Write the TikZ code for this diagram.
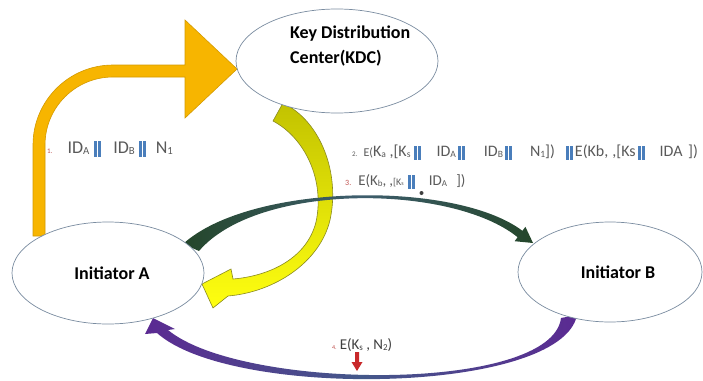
\documentclass[tikz,border=0pt]{standalone}
\usepackage{fontspec}
\usepackage{graphicx}
\setmainfont{Carlito}
\usetikzlibrary{shapes.geometric}
\definecolor{ellline}{HTML}{7A8CA0}
\definecolor{orangefill}{HTML}{F7B500}
\definecolor{orangeline}{HTML}{D49A00}
\definecolor{olive}{HTML}{C2C200}
\definecolor{brightyellow}{HTML}{FFFF10}
\definecolor{yellowline}{HTML}{8A8A20}
\definecolor{darkgreen}{HTML}{24462A}
\definecolor{slate}{HTML}{3E5E6E}
\definecolor{purp}{HTML}{5B2A92}
\definecolor{purpmid}{HTML}{44588A}
\definecolor{barblue}{HTML}{4A7EBB}
\definecolor{labelgray}{HTML}{5A5A5A}
\definecolor{numred}{HTML}{C0504D}
\definecolor{arrowred}{HTML}{C8282A}
\newcommand\mybars[1][14pt]{\textcolor{barblue}{\rule[-3.5pt]{3pt}{#1}\hspace{1pt}\rule[-3.5pt]{3pt}{#1}}}
\newcommand\mysub[1]{\raisebox{-0.15ex}{\scalebox{0.6}{#1}}}
\begin{document}
\begin{tikzpicture}[x=1pt,y=-1pt,
  ell/.style={ellipse, draw=ellline, line width=0.7pt, fill=white, inner sep=0pt},
  big/.style={font=\fontsize{18}{25}\selectfont\bfseries, text=black},
  lab/.style={text=labelgray, inner sep=0pt, anchor=base west}]
\fill[white] (0,0) rectangle (703,380);
\useasboundingbox (0,0) rectangle (703,380);
% orange bent arrow
\path[fill=orangefill, draw=orangeline, line width=0.6pt]
  (33,236) -- (33,145) .. controls (33,100.8) and (68.8,65) .. (113,65)
  -- (185,65) -- (185,20) -- (237,69) -- (185,118) -- (185,77) -- (113,77)
  .. controls (75.4,77) and (45,107.4) .. (45,145) -- (45,236) -- cycle;
% yellow curved arrow
\path[top color=olive, bottom color=brightyellow, draw=yellowline, line width=0.6pt]
  (283,103) .. controls (322,122) and (340,175) .. (330,220)
  .. controls (320,262) and (275,292) .. (228,296)
  -- (213,308) -- (202,284) -- (231,269) -- (233,279)
  .. controls (270,276) and (307,258) .. (316,222)
  .. controls (325,180) and (305,138) .. (273,121) -- cycle;
% green arc
\path[left color=darkgreen, right color=darkgreen, middle color=slate]
  (183,244) .. controls (250,183) and (455,180) .. (522.4,230.8)
  -- (525.4,226.8) -- (533,243) -- (514.6,241.2) -- (517.6,237.2)
  .. controls (452,184) and (258,182) .. (199,251) -- cycle;
% purple arc
\path[left color=purp, right color=purp, middle color=purpmid]
  (577,315) .. controls (562,394) and (232,400) .. (157,333)
  -- (145,334) -- (153,318) -- (175,329) -- (168,330)
  .. controls (242,391) and (552,393) .. (561,318) -- cycle;
% nodes
\node[ell, minimum width=192pt, minimum height=102pt, font=\fontsize{18}{22}\selectfont\bfseries] (A) at (108,273) {\hspace*{8pt}Initiator A};
\node[ell, minimum width=184pt, minimum height=100pt, font=\fontsize{18}{22}\selectfont\bfseries] (B) at (610,272) {\hspace*{16pt}Initiator B};
\node[ell, minimum width=202pt, minimum height=104pt] (KDC) at (337,61) {};
\node[big, anchor=west, align=left, inner sep=0pt] (kdct) at (290,46) {Key Distribution\\Center(KDC)};
% labels
\node[lab] (l1) at (47,153) {{\fontsize{7}{7}\selectfont\color{numred}1.}\hspace{15pt}{\fontsize{18}{18}\selectfont ID\mysub{A}\hspace{5pt}\mybars[16pt]\hspace{12pt}ID\mysub{B}\hspace{4pt}\mybars[16pt]\hspace{10pt}N\mysub{1}}};
\node[lab] (l2) at (352,156) {{\fontsize{7}{7}\selectfont 2.}\hspace{6pt}{\fontsize{16}{16}\selectfont {\fontsize{12}{12}\selectfont E(}K\mysub{a} ,[K\mysub{s}\hspace{3pt}\mybars[14pt]\hspace{16pt}ID\mysub{A}\hspace{2pt}\mybars[14pt]\hspace{19pt}ID\mysub{B}\hspace{2pt}\mybars[14pt]\hspace{18pt}N\mysub{1}])\hspace{11pt}\mybars[14pt]\hspace{2pt}E(Kb,\hspace{4pt},[Ks\hspace{2pt}\mybars[14pt]\hspace{15pt}IDA\hspace{2pt} ])}};
\node[lab] (l3) at (345,185) {{\fontsize{8}{8}\selectfont\color{numred}3.}\hspace{7pt}{\fontsize{15}{15}\selectfont E(K\mysub{b},\hspace{3pt},{\fontsize{10}{10}\selectfont[K\mysub{s}}\hspace{4pt}\mybars[14pt]\hspace{14pt}ID\mysub{A}\hspace{6pt} ])}};
\fill[labelgray!70!black] (421.5,193) circle (2);
\node[lab] (l4) at (332,349) {{\fontsize{6}{6}\selectfont\color{numred}4.}\hspace{3pt}{\fontsize{15}{15}\selectfont\color{labelgray!70!black}E(K\mysub{s} , N\mysub{2})}};
\fill[arrowred] (355,352) -- (359,352) -- (359,362) -- (362.5,362) -- (357,371) -- (351.5,362) -- (355,362) -- cycle;
\end{tikzpicture}
\end{document}
